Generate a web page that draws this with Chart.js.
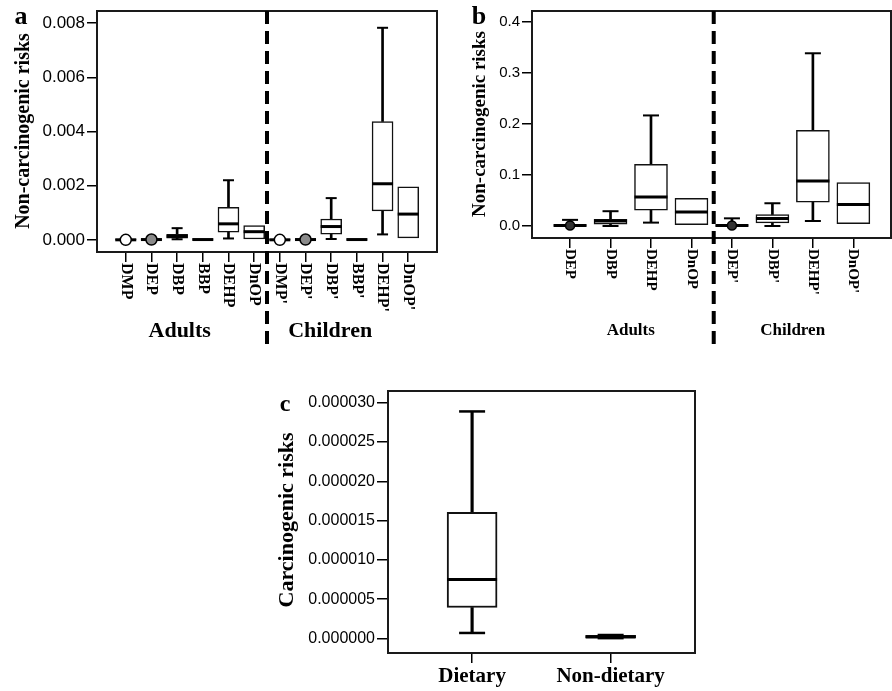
<!DOCTYPE html>
<html><head><meta charset="utf-8">
<script src="https://cdn.jsdelivr.net/npm/chart.js@4.4.0/dist/chart.umd.min.js"></script>
<style>
html,body{margin:0;padding:0;background:#fff;width:892px;height:691px;overflow:hidden;position:relative}
canvas{position:absolute}
</style></head><body>
<canvas id="ca" width="445" height="350" style="left:0;top:0;width:445px;height:350px"></canvas>
<canvas id="cb" width="447" height="350" style="left:445px;top:0;width:447px;height:350px"></canvas>
<canvas id="cc" width="445" height="331" style="left:255px;top:360px;width:445px;height:331px"></canvas>
<script>
// ---------- Panel a : non-carcinogenic risks (6 PAEs) ----------
const aCategories = ['DMP','DEP','DBP','BBP','DEHP','DnOP',"DMP'","DEP'","DBP'","BBP'","DEHP'","DnOP'"];
const aMin    = [0,       0,       0.00002, 0,       0.00005, 0.00003, 0,       0,       0.00003, 0,       0.0002,  0.00007];
const aQ1     = [0,       0,       0.00006, 0,       0.00028, 0.00003, 0,       0,       0.00021, 0,       0.00107, 0.00007];
const aMedian = [0,       0.00001, 0.00013, 0.00001, 0.00059, 0.0003,  0,       0.00001, 0.00049, 0.00001, 0.00207, 0.00095];
const aQ3     = [0.00001, 0.00002, 0.0002,  0.00002, 0.0012,  0.00053, 0.00001, 0.00002, 0.00077, 0.00002, 0.00437, 0.00196];
const aMax    = [0.00001, 0.00003, 0.00043, 0.00002, 0.0022,  0.00053, 0.00001, 0.00003, 0.00154, 0.00002, 0.00783, 0.00196];
const aOutliers = [0, 0.00001, null, null, null, null, 0, 0.00001, null, null, null, null];
const aOutlierFill = ['#ffffff', '#8a8a8a', null, null, null, null, '#ffffff', '#8a8a8a', null, null, null, null];
const aTickValues = [0, 0.002, 0.004, 0.006, 0.008];
const aTickLabels = ['0.000', '0.002', '0.004', '0.006', '0.008'];
const aGroups = ['Adults', 'Children'];
const aYTitle = 'Non-carcinogenic risks';

// ---------- Panel b : non-carcinogenic risks (4 PAEs) ----------
const bCategories = ['DEP','DBP','DEHP','DnOP',"DEP'","DBP'","DEHP'","DnOP'"];
const bMin    = [0,     0,      0.0066, 0.0028, 0,     0,      0.0098, 0.0047];
const bQ1     = [0,     0.0035, 0.031,  0.0028, 0,     0.006,  0.0466, 0.0047];
const bMedian = [0.001, 0.010,  0.057,  0.0276, 0.001, 0.0145, 0.0885, 0.042];
const bQ3     = [0.002, 0.013,  0.121,  0.0545, 0.002, 0.0224, 0.188,  0.0853];
const bMax    = [0.012, 0.029,  0.217,  0.0545, 0.015, 0.0446, 0.339,  0.0853];
const bOutliers = [0.001, null, null, null, 0.001, null, null, null];
const bOutlierFill = ['#333333', null, null, null, '#333333', null, null, null];
const bTickValues = [0, 0.1, 0.2, 0.3, 0.4];
const bTickLabels = ['0.0', '0.1', '0.2', '0.3', '0.4'];
const bGroups = ['Adults', 'Children'];
const bYTitle = 'Non-carcinogenic risks';

// ---------- Panel c : carcinogenic risks ----------
const cCategories = ['Dietary', 'Non-dietary'];
const cMin    = [0.00000071, 0.00000005];
const cQ1     = [0.00000395, 0.00000010];
const cMedian = [0.0000075,  0.00000020];
const cQ3     = [0.00001607, 0.00000040];
const cMax    = [0.0000289,  0.00000045];
const cTickValues = [0, 0.000005, 0.00001, 0.000015, 0.00002, 0.000025, 0.00003];
const cTickLabels = ['0.000000', '0.000005', '0.000010', '0.000015', '0.000020', '0.000025', '0.000030'];
const cYTitle = 'Carcinogenic risks';

// ---------- helpers ----------
const SERIF = '"Liberation Serif", "Times New Roman", serif';
const SANS = '"Liberation Sans", Arial, sans-serif';

function boxDatasets(mins, q1s, meds, q3s, maxs, outliers, fills, st) {
  const ds = [];
  const up = [], lo = [], caps = [], boxes = [], medians = [], outs = [], outFill = [];
  q1s.forEach((q1, i) => {
    boxes.push({x: i, y: [q1, q3s[i]]});
    medians.push({x: i, y: meds[i]});
    if (maxs[i] > q3s[i]) { up.push({x: i, y: [q3s[i], maxs[i]]}); caps.push({x: i, y: maxs[i]}); }
    if (mins[i] < q1) { lo.push({x: i, y: [mins[i], q1]}); caps.push({x: i, y: mins[i]}); }
    if (outliers && outliers[i] !== null) { outs.push({x: i, y: outliers[i]}); outFill.push(fills[i]); }
  });
  ds.push({type: 'bar', label: 'upper whisker', data: up, backgroundColor: '#000', borderWidth: 0,
           barThickness: st.whisker, grouped: false, order: 6});
  ds.push({type: 'bar', label: 'lower whisker', data: lo, backgroundColor: '#000', borderWidth: 0,
           barThickness: st.whisker, grouped: false, order: 6});
  ds.push({type: 'bar', label: 'IQR', data: boxes, backgroundColor: '#fff', borderColor: '#111',
           borderWidth: st.boxBorder, borderSkipped: false, barThickness: st.box, grouped: false, order: 5});
  ds.push({type: 'line', label: 'whisker cap', data: caps, showLine: false, pointStyle: 'line',
           pointRadius: st.cap / 2, pointBorderWidth: st.whisker, pointBorderColor: '#000', order: 4});
  ds.push({type: 'line', label: 'median', data: medians, showLine: false, pointStyle: 'line',
           pointRadius: st.box / 2, pointBorderWidth: st.median, pointBorderColor: '#000', order: 3});
  if (outs.length) {
    ds.push({type: 'line', label: 'outlier', data: outs, showLine: false, pointStyle: 'circle',
             pointRadius: st.outR, pointBorderWidth: 1.5, pointBorderColor: '#000',
             pointBackgroundColor: outFill, order: 1});
  }
  return ds;
}

function decorPlugin(L) {
  return {
    id: 'decor',
    afterDraw(chart) {
      const ctx = chart.ctx, a = chart.chartArea, xs = chart.scales.x;
      ctx.save();
      ctx.strokeStyle = '#1a1a1a'; ctx.lineWidth = 2;
      ctx.strokeRect(a.left, a.top, a.right - a.left, a.bottom - a.top);
      if (L.sepAt !== undefined) {
        const sx = xs.getPixelForValue(L.sepAt);
        ctx.beginPath(); ctx.setLineDash(L.sepDash); ctx.lineWidth = 4; ctx.strokeStyle = '#000';
        ctx.moveTo(sx, a.top); ctx.lineTo(sx, L.sepBottom); ctx.stroke(); ctx.setLineDash([]);
      }
      ctx.fillStyle = '#000';
      if (L.rotateLabels) {
        ctx.font = L.xLabelFont; ctx.textAlign = 'left'; ctx.textBaseline = 'middle';
        L.categories.forEach((c, i) => {
          ctx.save(); ctx.translate(xs.getPixelForValue(i), a.bottom + L.xLabelGap);
          ctx.rotate(Math.PI / 2); ctx.fillText(c, 0, 0); ctx.restore();
        });
      } else {
        ctx.font = L.xLabelFont; ctx.textAlign = 'center'; ctx.textBaseline = 'middle';
        L.categories.forEach((c, i) => ctx.fillText(c, xs.getPixelForValue(i), L.xLabelY));
      }
      if (L.groups) {
        ctx.font = L.groupFont; ctx.textAlign = 'center'; ctx.textBaseline = 'middle';
        L.groups.forEach((g, i) => ctx.fillText(g, xs.getPixelForValue(L.groupAt[i]), L.groupY));
      }
      ctx.font = L.letterFont; ctx.textAlign = 'center'; ctx.textBaseline = 'middle';
      ctx.fillText(L.letter, L.letterX, L.letterY);
      ctx.font = L.titleFont;
      ctx.save(); ctx.translate(L.titleX, L.titleY); ctx.rotate(-Math.PI / 2);
      ctx.fillText(L.title, 0, 0); ctx.restore();
      ctx.restore();
    }
  };
}

function makeChart(id, datasets, L) {
  return new Chart(document.getElementById(id), {
    type: 'bar',
    data: {datasets},
    options: {
      responsive: false, animation: false, events: [],
      devicePixelRatio: 1,
      layout: {padding: L.padding, autoPadding: false},
      plugins: {legend: {display: false}, tooltip: {enabled: false}},
      scales: {
        x: {
          type: 'linear', min: L.xMin, max: L.xMax, offset: false,
          afterBuildTicks: s => { s.ticks = L.categories.map((c, i) => ({value: i})); },
          afterFit: s => { s.height = L.xAxisH; s.paddingLeft = 0; s.paddingRight = 0; },
          grid: {offset: false, drawOnChartArea: false, drawTicks: true, tickLength: L.xTickLen, color: '#000', lineWidth: 1.5},
          border: {display: true, color: '#1a1a1a', width: 2},
          ticks: {display: false}
        },
        y: {
          type: 'linear', min: L.yMin, max: L.yMax,
          afterBuildTicks: s => { s.ticks = L.tickValues.map(v => ({value: v})); },
          afterFit: s => { s.width = L.yAxisW; s.paddingTop = 0; s.paddingBottom = 0; },
          grid: {drawOnChartArea: false, drawTicks: true, tickLength: L.yTickLen, color: '#000', lineWidth: 1.5},
          border: {display: true, color: '#1a1a1a', width: 2},
          ticks: {autoSkip: false, color: '#000', padding: 2, font: {family: SANS, size: L.tickSize},
                  callback: (v, i) => L.tickLabels[i]}
        }
      }
    },
    plugins: [decorPlugin(L)]
  });
}

// ---------- Panel a ----------
makeChart('ca',
  boxDatasets(aMin, aQ1, aMedian, aQ3, aMax, aOutliers, aOutlierFill,
              {box: 21, cap: 11, whisker: 2, median: 3, boxBorder: 1.5, outR: 5.5}),
  {categories: aCategories, tickValues: aTickValues, tickLabels: aTickLabels,
   xMin: -1.12, xMax: 12.12, yMin: -0.00045, yMax: 0.00845,
   padding: {left: 0, top: 11, right: 8, bottom: 0}, yAxisW: 97, xAxisH: 98,
   xTickLen: 10, yTickLen: 10, tickSize: 17,
   rotateLabels: true, xLabelFont: 'bold 16px ' + SERIF, xLabelGap: 11,
   groups: aGroups, groupAt: [2.1, 7.96], groupY: 331, groupFont: 'bold 22px ' + SERIF,
   sepAt: 5.5, sepDash: [13, 7], sepBottom: 345,
   letter: 'a', letterX: 21, letterY: 17, letterFont: 'bold 26px ' + SERIF,
   title: aYTitle, titleX: 24, titleY: 131, titleFont: 'bold 20px ' + SERIF});

// ---------- Panel b ----------
makeChart('cb',
  boxDatasets(bMin, bQ1, bMedian, bQ3, bMax, bOutliers, bOutlierFill,
              {box: 33, cap: 16, whisker: 2, median: 3, boxBorder: 1.5, outR: 4.5}),
  {categories: bCategories, tickValues: bTickValues, tickLabels: bTickLabels,
   xMin: -0.94, xMax: 7.93, yMin: -0.0236, yMax: 0.422,
   padding: {left: 0, top: 11, right: 1, bottom: 0}, yAxisW: 87, xAxisH: 112,
   xTickLen: 10, yTickLen: 10, tickSize: 15,
   rotateLabels: true, xLabelFont: 'bold 15px ' + SERIF, xLabelGap: 11,
   groups: bGroups, groupAt: [1.5, 5.5], groupY: 331, groupFont: 'bold 17px ' + SERIF,
   sepAt: 3.55, sepDash: [13, 7], sepBottom: 345,
   letter: 'b', letterX: 34, letterY: 17, letterFont: 'bold 26px ' + SERIF,
   title: bYTitle, titleX: 35, titleY: 124, titleFont: 'bold 19px ' + SERIF});

// ---------- Panel c ----------
makeChart('cc',
  boxDatasets(cMin, cQ1, cMedian, cQ3, cMax, null, null,
              {box: 50, cap: 26, whisker: 2.5, median: 3, boxBorder: 2, outR: 4}),
  {categories: cCategories, tickValues: cTickValues, tickLabels: cTickLabels,
   xMin: -0.607, xMax: 1.609, yMin: -0.00000184, yMax: 0.0000315,
   padding: {left: 0, top: 31, right: 5, bottom: 0}, yAxisW: 133, xAxisH: 38,
   xTickLen: 10, yTickLen: 11, tickSize: 16,
   rotateLabels: false, xLabelFont: 'bold 21px ' + SERIF, xLabelY: 317,
   letter: 'c', letterX: 30, letterY: 45, letterFont: 'bold 24px ' + SERIF,
   title: cYTitle, titleX: 32, titleY: 160, titleFont: 'bold 22px ' + SERIF});
</script>
</body></html>
